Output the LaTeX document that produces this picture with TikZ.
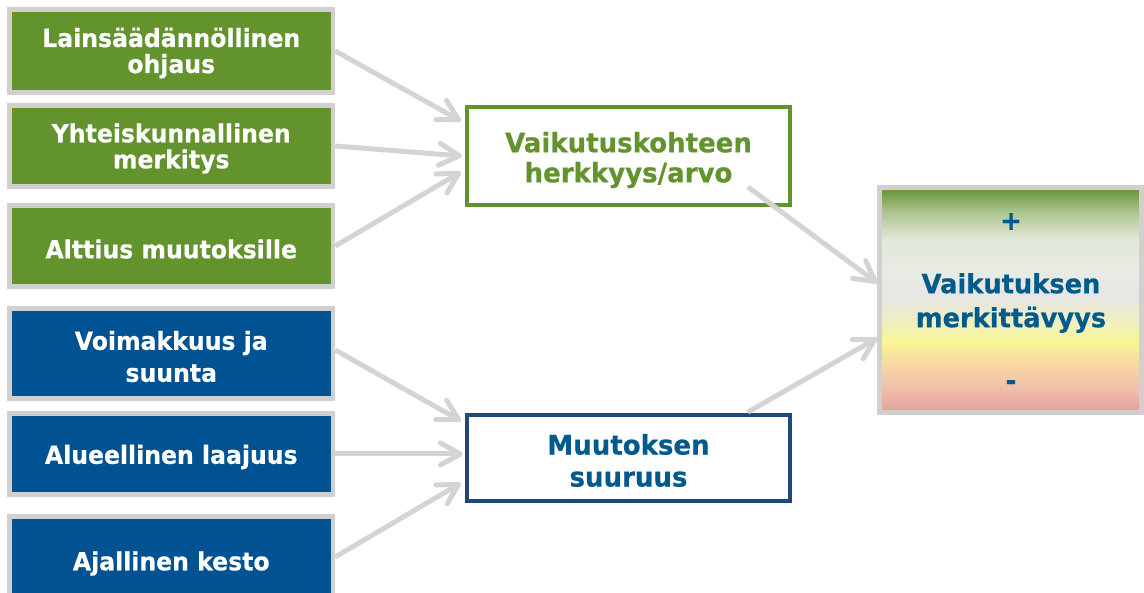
\documentclass[tikz,border=0pt]{standalone}
\usepackage{fontspec}
\setmainfont{DejaVu Sans}
\newfontfamily\leftfont{DejaVu Sans Bold}[FakeStretch=0.943, FakeBold=0.5]
\newfontfamily\midfont{DejaVu Sans Bold}[FakeStretch=0.964, FakeBold=0.5]
\newfontfamily\rfont{DejaVu Sans Bold}[FakeStretch=0.97, FakeBold=0.5]
\usetikzlibrary{arrows.meta}
\definecolor{gfill}{RGB}{98,147,44}
\definecolor{bfill}{RGB}{0,82,147}
\definecolor{gframe}{RGB}{210,208,206}
\definecolor{arrgrey}{RGB}{212,212,212}
\definecolor{navy}{RGB}{31,73,125}
\definecolor{tblue}{RGB}{0,90,140}
\definecolor{s0}{RGB}{225,160,155}
\definecolor{s1}{RGB}{240,190,170}
\definecolor{s2}{RGB}{248,215,165}
\definecolor{s3}{RGB}{248,245,150}
\definecolor{s4}{RGB}{240,240,190}
\definecolor{s5}{RGB}{230,230,228}
\definecolor{s6}{RGB}{232,235,228}
\definecolor{s7}{RGB}{225,232,215}
\definecolor{s8}{RGB}{170,195,140}
\definecolor{s9}{RGB}{98,146,50}
\pgfdeclareverticalshading{merk}{100bp}{color(0bp)=(s0); color(25bp)=(s0); color(30.2bp)=(s1); color(35.7bp)=(s2); color(40.9bp)=(s3); color(44.8bp)=(s4); color(50.7bp)=(s5); color(56.8bp)=(s6); color(63.6bp)=(s7); color(69.8bp)=(s8); color(75bp)=(s9); color(100bp)=(s9)}
\tikzset{
  leftbox/.style={draw=gframe, line width=4.5pt, minimum width=323.5pt, inner sep=0pt},
  lefttext/.style={text=white, font=\leftfont\fontsize{25}{26}\selectfont, align=center, inner sep=0pt},
  midbox/.style={draw, line width=4.3pt, fill=white, minimum width=323pt, inner sep=0pt},
  midtext/.style={align=center, inner sep=0pt, font=\midfont\fontsize{27}{30}\selectfont},
  rbox/.style={draw=gframe, line width=4.5pt, shading=merk, minimum width=262pt, minimum height=225pt},
  rtext/.style={text=tblue, align=center, inner sep=0pt, font=\rfont\fontsize{26.5}{34}\selectfont},
  arr/.style={draw=arrgrey, line width=5pt, -{Straight Barb[length=20pt,width=22pt,round]}}
}
\begin{document}
\begin{tikzpicture}[x=1pt,y=-1pt]
\useasboundingbox (0,0) rectangle (1144,593);
\begin{scope}
\clip (0,0) rectangle (1144,593);
\node[leftbox, fill=gfill, minimum height=83pt] (L1) at (171.25,51) {};
\node[leftbox, fill=gfill, minimum height=81pt] (L2) at (171.25,146) {};
\node[leftbox, fill=gfill, minimum height=81pt] (L3) at (171.25,246) {};
\node[leftbox, fill=bfill, minimum height=90pt] (B1) at (171.25,353.5) {};
\node[leftbox, fill=bfill, minimum height=81pt] (B2) at (171.25,454) {};
\node[leftbox, fill=bfill, minimum height=90pt] (B3) at (171.25,561.5) {};
\node[lefttext] (L1t) at (171.25,53) {Lainsäädännöllinen\\ohjaus};
\node[lefttext] (L2t) at (171.25,148.5) {Yhteiskunnallinen\\merkitys};
\node[lefttext] (L3t) at (171.25,249) {Alttius muutoksille};
\node[lefttext, font=\leftfont\fontsize{25}{32}\selectfont] (B1t) at (171.25,356.5) {Voimakkuus ja\\suunta};
\node[lefttext] (B2t) at (171.25,457) {Alueellinen laajuus};
\node[lefttext] (B3t) at (171.25,563.5) {Ajallinen kesto};

\node[midbox, draw=gfill, minimum height=98pt] (M1) at (628.5,156) {};
\node[midtext, text=gfill] (M1t) at (628.5,160) {Vaikutuskohteen\\herkkyys/arvo};
\node[midbox, draw=navy, minimum height=86pt] (M2) at (628.5,458) {};
\node[midtext, text=tblue, font=\midfont\fontsize{27}{32}\selectfont] (M2t) at (628.5,460.5) {Muutoksen\\suuruus};

\node[rbox] (R) at (1010.5,300) {};
\node[rtext] (plus) at (1011,221.5) {+};
\node[rtext] (rt) at (1011,303) {Vaikutuksen\\merkittävyys};
\node[rtext] (minus) at (1011,385) {-};

\draw[arr] (L1.east) -- ([shift={(-4pt,35pt)}]M1.west);
\draw[arr] (L2.east) -- ([shift={(-3pt,0pt)}]M1.west);
\draw[arr] (L3.east) -- ([shift={(-4pt,-16pt)}]M1.west);
\draw[arr] ([yshift=3.5pt]B1.east) -- ([shift={(-4pt,37pt)}]M2.west);
\draw[arr] (B2.east) -- ([shift={(-2pt,4pt)}]M2.west);
\draw[arr] ([yshift=4.5pt]B3.east) -- ([shift={(-4pt,-25pt)}]M2.west);
\draw[arr] ([shift={(119.5pt,-31pt)}]M1.center) -- ([yshift=17pt]R.west);
\draw[arr] ([shift={(119.5pt,46pt)}]M2.center) -- ([yshift=-38pt]R.west);
\end{scope}
\end{tikzpicture}
\end{document}
